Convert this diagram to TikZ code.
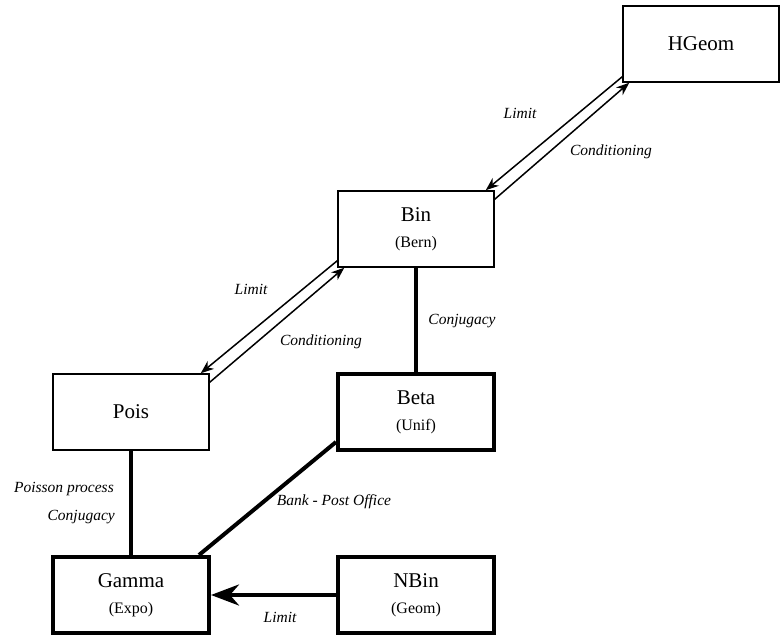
\documentclass[tikz,border=0pt]{standalone}
\usepackage{fontspec}
\setmainfont{Liberation Serif}
\usetikzlibrary{arrows.meta,calc}
\newcommand{\mainf}{\fontsize{21}{26}\selectfont}
\newcommand{\subf}{\fontsize{16}{26}\selectfont}
\newcommand{\labf}{\fontsize{15.5}{19}\selectfont\itshape}
\begin{document}
\begin{tikzpicture}[x=1pt,y=-1pt,
  distbox/.style={draw, rectangle, minimum width=156pt, minimum height=76pt, align=center, font=\mainf, inner sep=0pt},
  thinbox/.style={distbox, line width=1.5pt},
  thickbox/.style={distbox, line width=4pt},
  thinarrow/.style={line width=1.5pt, -{Stealth[length=13pt,width=10pt,inset=4pt]}},
  thickline/.style={line width=4pt},
  thickarrow/.style={line width=4pt, -{Stealth[length=28pt,width=21pt,inset=9pt]}},
  lab/.style={font=\labf, inner sep=0pt}
]
\useasboundingbox (0,0) rectangle (782,644);
\fill[white] (0,0) rectangle (782,644);

\node[thinbox] (hgeom) at (701,44) {HGeom};
\node[thinbox] (bin) at (416,229) {Bin\\{\subf (Bern)}};
\node[thinbox] (pois) at (131,412) {Pois};
\node[thickbox] (beta) at (416,412) {Beta\\{\subf (Unif)}};
\node[thickbox] (gamma) at (131,595) {Gamma\\{\subf (Expo)}};
\node[thickbox] (nbin) at (416,595) {NBin\\{\subf (Geom)}};

% HGeom <-> Bin
\coordinate (l1s) at ($(hgeom.south west)+(0,-6)$);
\coordinate (l1e) at ($(bin.north east)+(-9,0)$);
\coordinate (c1s) at ($(bin.north east)+(0,9)$);
\coordinate (c1e) at ($(hgeom.south west)+(7,0)$);
\draw[thinarrow] (l1s) -- (l1e);
\draw[thinarrow] (c1s) -- (c1e);

% Bin <-> Pois
\coordinate (l2s) at ($(bin.south west)+(0,-7)$);
\coordinate (l2e) at ($(pois.north east)+(-9,0)$);
\coordinate (c2s) at ($(pois.north east)+(0,9)$);
\coordinate (c2e) at ($(bin.south west)+(7,0)$);
\draw[thinarrow] (l2s) -- (l2e);
\draw[thinarrow] (c2s) -- (c2e);

% thick connectors
\draw[thickline] (bin.south) -- (beta.north);
\draw[thickline] (pois.south) -- (gamma.north);
\coordinate (bps) at ($(beta.south west)+(0,-10)$);
\coordinate (bpe) at ($(gamma.north east)+(-12,0)$);
\draw[thickline] (bps) -- (bpe);
\draw[thickarrow] (nbin.west) -- (gamma.east);

% labels
\node[lab] (lab1) at (520,113) {Limit};
\node[lab] (lab2) at (611,152) {Conditioning};
\node[lab] (lab3) at (251,289) {Limit};
\node[lab] (lab4) at (321,342) {Conditioning};
\node[lab] (lab5) at (462,321) {Conjugacy};
\node[lab] (lab6) at (334,502) {Bank - Post Office};
\node[lab, anchor=east] (lab7) at (114,489) {Poisson process};
\node[lab, anchor=east] (lab8) at (115,517) {Conjugacy};
\node[lab] (lab9) at (280,617) {Limit};
\end{tikzpicture}
\end{document}
